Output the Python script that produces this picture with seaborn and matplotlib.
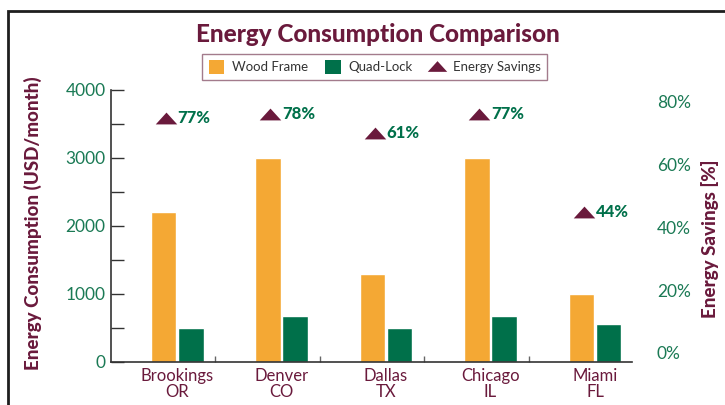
import pandas as pd
import matplotlib.pyplot as plt
import seaborn as sns
from matplotlib.patches import Patch, Rectangle
from matplotlib.lines import Line2D
from matplotlib.ticker import MultipleLocator, FixedLocator

# Chart data
cities = ['Brookings\nOR', 'Denver\nCO', 'Dallas\nTX', 'Chicago\nIL', 'Miami\nFL']
wood_frame = [2200, 3000, 1300, 3000, 1000]
quad_lock = [500, 670, 500, 670, 560]
savings_labels = [77, 78, 61, 77, 44]          # printed percentages
savings_marker = [75, 76, 70, 76, 45]          # where the triangles sit on the right axis

series_names = ['Wood Frame', 'Quad-Lock']

# Colours
maroon = '#6a1a3c'
orange = '#f4a834'
green = '#00704a'
tick_green = '#1b7a55'
axis_gray = '#333333'

sns.set_style('white')
plt.rcParams['font.family'] = ['Lato', 'DejaVu Sans']

# Long format frame for seaborn
df = pd.DataFrame({
    'city': cities * 2,
    'series': [series_names[0]] * len(cities) + [series_names[1]] * len(cities),
    'value': wood_frame + quad_lock,
})

fig = plt.figure(figsize=(7.25, 4.05), dpi=100)
ax = fig.add_axes([0.1531, 0.1062, 0.7186, 0.6716])

sns.barplot(data=df, x='city', y='value', hue='series', order=cities, hue_order=series_names,
            palette=[orange, green], width=0.517, gap=0.04, saturation=1, legend=False, ax=ax)

ax.set_xlim(-0.632, 4.354)
ax.set_ylim(0, 4000)
ax.set_xlabel('')
ax.set_ylabel('')

# Left axis ticks
ax.yaxis.set_major_locator(MultipleLocator(1000))
ax.yaxis.set_minor_locator(MultipleLocator(500))
ax.tick_params(axis='y', which='both', direction='in', length=9.5, width=1, color=axis_gray,
               left=True, labelcolor=tick_green, labelsize=12.5, pad=4)

# Bottom axis: small upward ticks between the city groups
ax.xaxis.set_minor_locator(FixedLocator([i + 0.364 for i in range(len(cities))]))
ax.tick_params(axis='x', which='major', length=0, labelcolor=maroon, labelsize=12, pad=4)
ax.tick_params(axis='x', which='minor', direction='in', length=4, width=1, color='#666666', bottom=True)
for lbl in ax.get_xticklabels():
    lbl.set_linespacing(1.0)

for side in ['top', 'right']:
    ax.spines[side].set_visible(False)
for side in ['left', 'bottom']:
    ax.spines[side].set_color(axis_gray)
    ax.spines[side].set_linewidth(1.2)

# Right axis for the savings
ax2 = ax.twinx()
ax2.set_ylim(-2.93, 83.8)
ax2.set_yticks([0, 20, 40, 60, 80])
ax2.set_yticklabels([f'{v}%' for v in [0, 20, 40, 60, 80]])
ax2.tick_params(axis='y', length=0, labelcolor=tick_green, labelsize=12.5, pad=18)
for side in ['top', 'right', 'left', 'bottom']:
    ax2.spines[side].set_visible(False)

tri = [(-1, -0.55), (1, -0.55), (0, 0.55), (-1, -0.55)]
xpos = list(range(len(cities)))
ax2.scatter([x - 0.108 for x in xpos], savings_marker, marker=tri, s=240, color=maroon,
            linewidths=0, zorder=5)
for x, ym, lab in zip(xpos, savings_marker, savings_labels):
    ax2.text(x + 0.005, ym, f'{lab}%', ha='left', va='center', color=green, fontsize=12,
             fontweight='black')

# Titles and axis names
fig.text(0.521, 0.914, 'Energy Consumption Comparison', ha='center', va='center',
         fontsize=17.5, fontweight='black', color=maroon)
fig.text(0.0455, 0.449, 'Energy Consumption (USD/month)', rotation=90, ha='center', va='center',
         fontsize=13.5, fontweight='black', color=maroon)
fig.text(0.979, 0.410, 'Energy Savings [%]', rotation=90, ha='center', va='center',
         fontsize=13.5, fontweight='black', color=maroon)

# Legend
handles = [
    Patch(facecolor=orange, edgecolor='none', label='Wood Frame'),
    Patch(facecolor=green, edgecolor='none', label='Quad-Lock'),
    Line2D([], [], linestyle='none', marker=tri, markersize=14, color=maroon,
           markeredgewidth=0, label='Energy Savings'),
]
leg = fig.legend(handles=handles, loc='center', bbox_to_anchor=(0.5166, 0.8346), ncol=3,
                 fontsize=9.5, frameon=True, fancybox=False, handlelength=1.2, handleheight=1.2,
                 handletextpad=0.55, columnspacing=1.3, borderpad=0.5)
leg.get_frame().set_edgecolor('#8c5a70')
leg.get_frame().set_linewidth(1)
for t in leg.get_texts():
    t.set_color('#333333')

# Outer frame (top and left edges visible)
fig.add_artist(Rectangle((8 / 725, -0.2), 1.3, 1.2 - 11 / 405, transform=fig.transFigure,
                         fill=False, edgecolor='#1e1e1e', linewidth=2))

fig.savefig('out.png', dpi=100)
